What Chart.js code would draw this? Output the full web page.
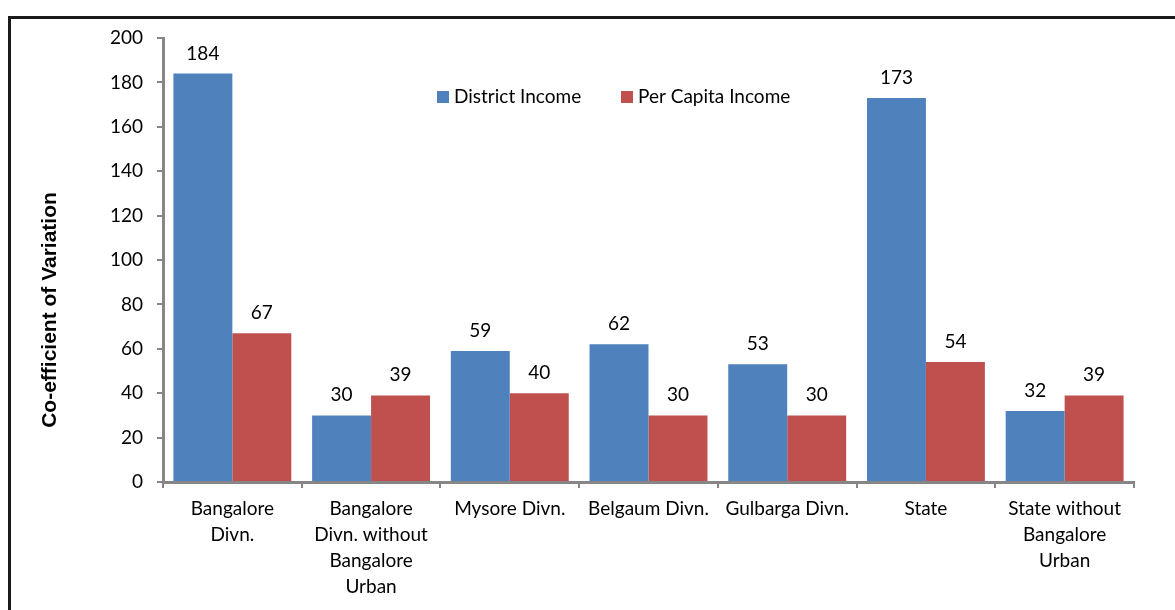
<!DOCTYPE html>
<html>
<head>
<meta charset="utf-8">
<title>Co-efficient of Variation</title>
<script src="https://cdn.jsdelivr.net/npm/chart.js@4/dist/chart.umd.min.js"></script>
<style>
    html, body { margin: 0; padding: 0; background: #fff; }
    #wrap { width: 1175px; height: 610px; position: relative; }
</style>
</head>
<body>
<div id="wrap"><canvas id="cv-chart" width="1175" height="610"></canvas></div>
<script>
const categories = [
    ['Bangalore', 'Divn.'],
    ['Bangalore', 'Divn. without', 'Bangalore', 'Urban'],
    'Mysore Divn.',
    'Belgaum Divn.',
    'Gulbarga Divn.',
    'State',
    ['State without', 'Bangalore', 'Urban']
];
const districtIncome = [184, 30, 59, 62, 53, 173, 32];
const perCapitaIncome = [67, 39, 40, 30, 30, 54, 39];
const yTicks = [0, 20, 40, 60, 80, 100, 120, 140, 160, 180, 200];

const FONT = 'Lato';

// frame, value labels, legend and axis title drawn on top of the chart
const extras = {
    id: 'extras',
    afterDraw(chart) {
        const ctx = chart.ctx;
        ctx.save();

        // outer frame
        ctx.strokeStyle = '#1a1a1a';
        ctx.lineWidth = 3;
        ctx.strokeRect(9.5, 17.5, 1400, 1000);

        // values above bars
        ctx.fillStyle = '#000';
        ctx.font = '19px ' + FONT;
        ctx.textAlign = 'center';
        ctx.textBaseline = 'alphabetic';
        chart.data.datasets.forEach((ds, i) => {
            chart.getDatasetMeta(i).data.forEach((bar, j) => {
                ctx.fillText(String(ds.data[j]), bar.x, bar.y - 14);
            });
        });

        // legend
        const items = [{ x: 437 }, { x: 621 }];
        ctx.textAlign = 'left';
        ctx.textBaseline = 'middle';
        chart.data.datasets.forEach((ds, i) => {
            const x = items[i].x;
            ctx.fillStyle = ds.backgroundColor;
            ctx.fillRect(x, 91, 12, 12);
            ctx.fillStyle = '#000';
            ctx.fillText(ds.label, x + 17, 97);
        });

        // y axis title
        ctx.translate(50, 310);
        ctx.rotate(-Math.PI / 2);
        ctx.textAlign = 'center';
        ctx.font = 'bold 21px "Liberation Sans", Arial';
        ctx.fillText('Co-efficient of Variation', 0, 0);

        ctx.restore();
    }
};

new Chart(document.getElementById('cv-chart'), {
    type: 'bar',
    data: {
        labels: categories,
        datasets: [{
            label: 'District Income',
            data: districtIncome,
            backgroundColor: '#4F81BD'
        }, {
            label: 'Per Capita Income',
            data: perCapitaIncome,
            backgroundColor: '#C0504D'
        }]
    },
    options: {
        responsive: false,
        animation: false,
        layout: {
            padding: { top: 38, right: 41, left: 0, bottom: 0 }
        },
        datasets: {
            bar: {
                categoryPercentage: 0.85,
                barPercentage: 1.0
            }
        },
        plugins: {
            legend: { display: false },
            tooltip: { enabled: false }
        },
        scales: {
            x: {
                grid: {
                    drawOnChartArea: false,
                    drawTicks: true,
                    tickLength: 6,
                    color: '#868686',
                    lineWidth: 2
                },
                border: { color: '#868686', width: 3 },
                ticks: {
                    color: '#000',
                    padding: 8,
                    maxRotation: 0,
                    autoSkip: false,
                    font: { family: FONT, size: 19, lineHeight: 26 / 19 }
                },
                afterFit(scale) { scale.height = 128; }
            },
            y: {
                min: 0,
                max: 200,
                afterBuildTicks(scale) {
                    scale.ticks = yTicks.map(v => ({ value: v }));
                },
                grid: {
                    drawOnChartArea: false,
                    drawTicks: true,
                    tickLength: 6,
                    color: '#868686',
                    lineWidth: 2
                },
                border: { color: '#868686', width: 3 },
                ticks: {
                    color: '#000',
                    padding: 14,
                    font: { family: FONT, size: 19 }
                },
                afterFit(scale) { scale.width = 163; }
            }
        }
    },
    plugins: [extras]
});
</script>
</body>
</html>
